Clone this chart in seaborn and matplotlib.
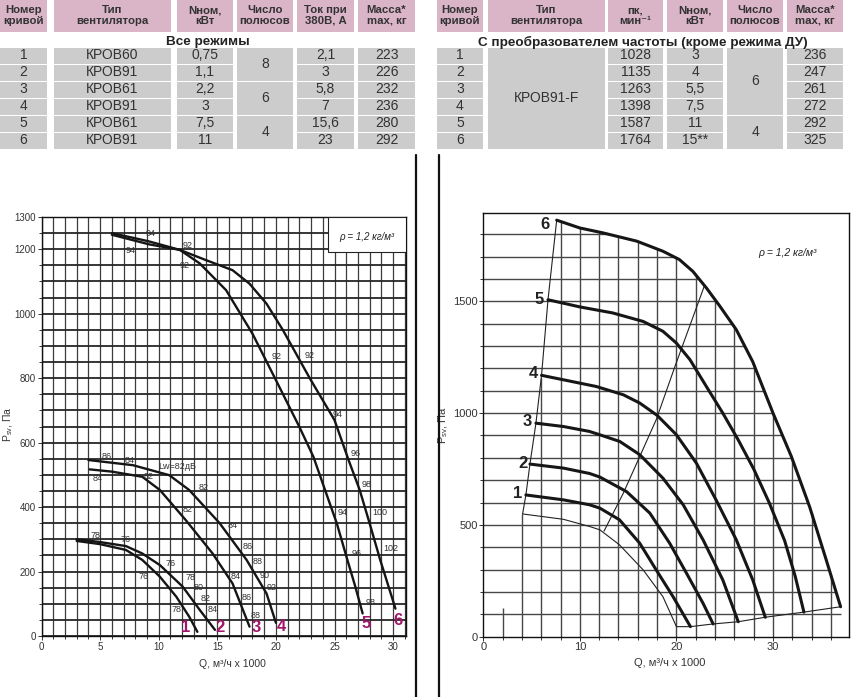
import numpy as np
import matplotlib
matplotlib.use('Agg')
import matplotlib.pyplot as plt
from matplotlib.patches import Rectangle
from matplotlib.lines import Line2D
from matplotlib.ticker import MultipleLocator
from matplotlib import font_manager
import seaborn as sns

# ---------------- DATA ----------------
# Table 1 (all modes)
t1_headers = ["Номер\nкривой", "Тип\nвентилятора", "Nном,\nкВт", "Число\nполюсов", "Ток при\n380В, А", "Масса*\nmax, кг"]
t1_title = "Все режимы"
t1_curve = ["1", "2", "3", "4", "5", "6"]
t1_type = ["КРОВ60", "КРОВ91", "КРОВ61", "КРОВ91", "КРОВ61", "КРОВ91"]
t1_power = ["0,75", "1,1", "2,2", "3", "7,5", "11"]
t1_poles = ["8", "8", "6", "6", "4", "4"]
t1_current = ["2,1", "3", "5,8", "7", "15,6", "23"]
t1_mass = ["223", "226", "232", "236", "280", "292"]

# Table 2 (frequency converter)
t2_headers = ["Номер\nкривой", "Тип\nвентилятора", "пк,\nмин⁻¹", "Nном,\nкВт", "Число\nполюсов", "Масса*\nmax, кг"]
t2_title = "С преобразователем частоты (кроме режима ДУ)"
t2_curve = ["1", "2", "3", "4", "5", "6"]
t2_type = ["КРОВ91-F", "КРОВ91-F", "КРОВ91-F", "КРОВ91-F", "КРОВ91-F", "КРОВ91-F"]
t2_speed = ["1028", "1135", "1263", "1398", "1587", "1764"]
t2_power = ["3", "4", "5,5", "7,5", "11", "15**"]
t2_poles = ["6", "6", "6", "6", "4", "4"]
t2_mass = ["236", "247", "261", "272", "292", "325"]

# Left chart curves: Q (m3/h x1000), P (Pa)
L1_q = [3.0, 5.0, 7.2, 8.6, 10.1, 11.5, 12.6, 13.3]
L1_p = [295, 285, 267, 236, 184, 122, 60, 13]
L2_q = [3.0, 4.9, 7.2, 8.6, 10.1, 12.05, 13.5, 14.8]
L2_p = [300, 292, 279, 256, 220, 153, 81, 19]
L3_q = [4.1, 6.0, 8.6, 10.1, 12.3, 14.6, 16.3, 17.75]
L3_p = [517, 510, 494, 453, 360, 256, 163, 29]
L4_q = [4.0, 7.8, 10.9, 12.6, 15.2, 17.5, 19.2, 20.0]
L4_p = [546, 530, 499, 453, 350, 236, 132, 41]
L5_q = [6.0, 9.1, 11.8, 13.5, 15.75, 18.0, 20.0, 22.0, 23.2, 24.0, 25.2, 26.1, 26.8, 27.4]
L5_p = [1250, 1225, 1198, 1156, 1073, 938, 794, 649, 556, 473, 349, 236, 150, 70]
L6_q = [6.0, 9.2, 11.8, 14.05, 16.3, 17.75, 19.2, 20.6, 22.9, 25.0, 26.2, 27.15, 28.0, 28.9, 30.2]
L6_p = [1245, 1215, 1198, 1166, 1135, 1093, 1031, 949, 799, 670, 546, 453, 349, 236, 85]

# Left chart noise-level annotations (Q, P, text)
L_notes = [
    (4.6, 311, "78"), (7.2, 300, "76"), (11.05, 225, "76"), (8.7, 184, "76"),
    (12.7, 182, "78"), (13.4, 150, "80"), (14.0, 117, "82"), (14.6, 81, "84"), (11.5, 81, "78"),
    (5.55, 556, "86"), (7.5, 544, "84"), (11.55, 527, "Lw=82дБ"), (4.8, 489, "84"),
    (9.1, 494, "82"), (13.8, 460, "82"), (12.5, 391, "82"), (16.3, 344, "84"),
    (17.6, 279, "86"), (18.4, 230, "88"), (19.0, 189, "90"), (19.6, 151, "92"),
    (16.6, 184, "84"), (17.5, 119, "86"), (18.3, 65, "88"),
    (9.3, 1249, "94"), (7.6, 1197, "94"), (12.5, 1212, "92"), (12.2, 1150, "92"),
    (20.06, 866, "92"), (22.9, 871, "92"), (25.25, 687, "94"), (26.8, 567, "96"),
    (27.7, 470, "98"), (28.9, 382, "100"), (25.7, 382, "94"), (29.8, 272, "102"),
    (26.9, 256, "96"), (28.1, 104, "98"),
]
L_numbers = [(12.28, 27, "1"), (15.25, 27, "2"), (18.3, 25, "3"), (20.46, 28, "4"), (27.67, 39, "5"), (30.4, 47, "6")]

# Right chart curves
R1_q = [4.41, 8.3, 11.0, 12.07, 14.1, 16.2, 17.9, 19.65, 21.45]
R1_p = [634, 612, 590, 575, 523, 418, 299, 179, 45]
R2_q = [4.83, 8.3, 11.0, 12.07, 14.83, 17.24, 19.3, 21.04, 22.76, 23.8]
R2_p = [772, 754, 730, 714, 649, 553, 418, 284, 149, 57]
R3_q = [5.45, 8.3, 11.0, 12.07, 14.14, 16.2, 18.6, 20.7, 22.76, 24.8, 26.4]
R3_p = [955, 940, 918, 903, 873, 814, 709, 590, 433, 254, 67]
R4_q = [6.03, 8.3, 11.7, 14.5, 16.2, 18.0, 20.0, 22.07, 24.1, 26.2, 27.9, 28.6, 29.2]
R4_p = [1169, 1149, 1119, 1082, 1045, 990, 903, 776, 612, 433, 254, 164, 87]
R5_q = [6.7, 10.0, 13.4, 16.55, 18.6, 20.0, 21.4, 23.1, 24.8, 26.4, 28.0, 29.6, 31.2, 32.3, 33.2]
R5_p = [1507, 1475, 1448, 1410, 1366, 1313, 1239, 1119, 1000, 880, 750, 600, 430, 270, 110]
R6_q = [7.6, 10.0, 12.4, 15.9, 18.6, 20.3, 21.7, 23.1, 24.5, 26.2, 27.9, 30.0, 31.9, 33.8, 35.5, 37.0]
R6_p = [1863, 1828, 1806, 1769, 1724, 1687, 1634, 1560, 1478, 1373, 1230, 1000, 806, 580, 345, 134]
# thin boundary lines
R_start_q = [4.07, 4.41, 4.83, 5.45, 6.03, 6.7, 7.6]
R_start_p = [549, 634, 772, 955, 1169, 1507, 1863]
R_min_q = [4.07, 8.3, 11.0, 12.07, 14.1, 16.55, 18.6, 20.0]
R_min_p = [549, 525, 493, 478, 411, 299, 179, 45]
R_diag_q = [12.5, 14.5, 16.2, 17.9, 19.85, 22.9]
R_diag_p = [472, 642, 806, 970, 1209, 1570]
R_stub_q = [2]
R_stub_p = [130]
R_numbers = [(3.52, 639, "1"), (4.1, 776, "2"), (4.6, 963, "3"), (5.2, 1179, "4"), (5.8, 1507, "5"), (6.4, 1843, "6")]

# ---------------- STYLE ----------------
sns.set_theme(style='white')
names = {f.name for f in font_manager.fontManager.ttflist}
NARROW = 'Liberation Sans Narrow' if 'Liberation Sans Narrow' in names else 'Liberation Sans'
plt.rcParams['font.family'] = [NARROW, 'DejaVu Sans']

W, H = 852, 697
fig = plt.figure(figsize=(W / 100, H / 100), dpi=100)
fig.patch.set_facecolor('white')

PINK = '#dab4c7'
GRAY = '#cccccc'
TXT = '#333333'


def cell(x0, x1, y0, y1, color, text, bold=False, size=10):
    fig.add_artist(Rectangle((x0 / W, 1 - y1 / H), (x1 - x0) / W, (y1 - y0) / H,
                             transform=fig.transFigure, facecolor=color, edgecolor='none', zorder=0))
    fig.text((x0 + x1) / 2 / W, 1 - (y0 + y1) / 2 / H + 0.001, text, ha='center', va='center',
             fontsize=size, fontweight='bold' if bold else 'normal', color=TXT, linespacing=1.05)


def spans(values, merge):
    if not merge:
        return [(i, i, v) for i, v in enumerate(values)]
    out, start = [], 0
    for i in range(1, len(values) + 1):
        if i == len(values) or values[i] != values[start]:
            out.append((start, i - 1, values[start]))
            start = i
    return out


row_top = [48, 65, 82, 99, 116, 133]
row_h = 16


def table(cols, headers, columns, merges, title, title_x):
    for (x0, x1), h in zip(cols, headers):
        cell(x0, x1, 0, 32, PINK, h, bold=True, size=8.2)
    fig.text(title_x / W, 1 - 42 / H, title, ha='center', va='center', fontsize=9.7,
             fontweight='bold', color='#222')
    for (x0, x1), vals, mg in zip(cols, columns, merges):
        for a, b, v in spans(vals, mg):
            cell(x0, x1, row_top[a], row_top[b] + row_h, GRAY, v, size=10)


table([(0, 47), (54, 171), (177, 233), (237, 293), (297, 354), (358, 415)], t1_headers,
      [t1_curve, t1_type, t1_power, t1_poles, t1_current, t1_mass],
      [False, False, False, True, False, False], t1_title, 208)
table([(437, 483), (488, 605), (608, 663), (667, 723), (727, 783), (787, 843)], t2_headers,
      [t2_curve, t2_type, t2_speed, t2_power, t2_poles, t2_mass],
      [False, True, False, False, True, False], t2_title, 643)

# divider lines
for xp in (416, 439):
    fig.add_artist(Line2D([xp / W, xp / W], [0, 1 - 155 / H], color='#111', lw=1.6, transform=fig.transFigure))

# ---------------- LEFT CHART ----------------
axL = fig.add_axes([41.5 / W, 1 - 636 / H, (406 - 41.5) / W, (636 - 217) / H])
for q, p in [(L1_q, L1_p), (L2_q, L2_p), (L3_q, L3_p), (L4_q, L4_p), (L5_q, L5_p), (L6_q, L6_p)]:
    sns.lineplot(x=q, y=p, ax=axL, color='#151515', linewidth=1.7, sort=False, estimator=None, zorder=4)
axL.set_xlim(0, 31.1)
axL.set_ylim(0, 1300)
axL.set_xticks(list(range(0, 31, 5)))
axL.set_yticks([0, 200, 400, 600, 800, 1000, 1200, 1300])
axL.xaxis.set_minor_locator(MultipleLocator(1))
axL.yaxis.set_minor_locator(MultipleLocator(50))
axL.set_axisbelow(True)
axL.grid(which='both', axis='x', color='#3c3c3c', lw=0.9)
axL.grid(which='both', axis='y', color='#262626', lw=1.3)
axL.tick_params(which='both', bottom=True, left=True, direction='out', colors=TXT, labelsize=7, pad=1, width=0.7)
axL.tick_params(which='major', length=3)
axL.tick_params(which='minor', length=2)
for s in axL.spines.values():
    s.set_color('#111')
    s.set_linewidth(1.0)
axL.set_xlabel('Q, м³/ч x 1000', fontsize=7.5, color=TXT)
axL.xaxis.set_label_coords(0.525, -0.056)
axL.set_ylabel(r'P$_{\mathregular{sv}}$, Па', fontsize=7.5, color=TXT)
axL.yaxis.set_label_coords(-0.072, 0.505)
axL.add_patch(Rectangle((0.786, 0.916), 0.214, 0.084, transform=axL.transAxes,
                        facecolor='white', edgecolor='#222', lw=0.8, zorder=3))
axL.text(0.892, 0.952, 'ρ = 1,2 кг/м³', transform=axL.transAxes, fontsize=7,
         style='italic', ha='center', va='center', color='#222', zorder=5)
for x, y, s in L_notes:
    axL.text(x, y, s, fontsize=6.5, ha='center', va='center', color='#333', zorder=5)
for x, y, s in L_numbers:
    axL.text(x, y, s, fontsize=12, fontweight='bold', ha='center', va='center', color='#a1166a', zorder=5)

# ---------------- RIGHT CHART ----------------
axR = fig.add_axes([483.3 / W, 1 - 636.7 / H, (849.3 - 483.3) / W, (636.7 - 213) / H])
axR.set_xlim(0, 37.9)
axR.set_ylim(0, 1895)
# clipped grid
q6 = np.array(R6_q)
p6 = np.array(R6_p)
for lev in range(100, 1900, 100):
    xe = np.interp(lev, p6[::-1], q6[::-1])
    axR.hlines(lev, 0, xe, color='#474747', lw=1.0, zorder=0.5)
env_q = np.array(R_start_q + R6_q[1:])
env_p = np.array(R_start_p + R6_p[1:])
for xv in range(2, 38, 2):
    top = np.interp(xv, env_q, env_p)
    if xv in R_stub_q:
        top = R_stub_p[R_stub_q.index(xv)]
    axR.vlines(xv, 0, top, color='#474747', lw=1.0, zorder=0.5)

for q, p in [(R1_q, R1_p), (R2_q, R2_p), (R3_q, R3_p), (R4_q, R4_p), (R5_q, R5_p), (R6_q, R6_p)]:
    sns.lineplot(x=q, y=p, ax=axR, color='#161616', linewidth=2.2, sort=False, estimator=None, zorder=4)
# thin lines
sns.lineplot(x=R_start_q, y=R_start_p, ax=axR, color='#222', linewidth=0.8, sort=False, estimator=None, zorder=3)
sns.lineplot(x=R_min_q, y=R_min_p, ax=axR, color='#222', linewidth=0.8, sort=False, estimator=None, zorder=3)
sns.lineplot(x=R_diag_q, y=R_diag_p, ax=axR, color='#222', linewidth=0.8, sort=False, estimator=None, zorder=3)
bot_q = [R_min_q[-1]] + [c[-1] for c in (R1_q, R2_q, R3_q, R4_q, R5_q, R6_q)]
bot_p = [R_min_p[-1]] + [c[-1] for c in (R1_p, R2_p, R3_p, R4_p, R5_p, R6_p)]
sns.lineplot(x=bot_q, y=bot_p, ax=axR, color='#222', linewidth=0.8, sort=False, estimator=None, zorder=3)

axR.set_xticks([0, 10, 20, 30])
axR.set_yticks([0, 500, 1000, 1500])
axR.xaxis.set_minor_locator(MultipleLocator(2))
axR.yaxis.set_minor_locator(MultipleLocator(100))
axR.tick_params(which='both', bottom=True, left=True, direction='out', colors=TXT, labelsize=8, pad=1, width=0.7)
axR.tick_params(which='major', length=3)
axR.tick_params(which='minor', length=2)
for s in axR.spines.values():
    s.set_color('#111')
    s.set_linewidth(1.0)
axR.set_xlabel('Q, м³/ч x 1000', fontsize=8, color=TXT)
axR.xaxis.set_label_coords(0.51, -0.05)
axR.set_ylabel(r'P$_{\mathregular{sv}}$, Па', fontsize=8, color=TXT)
axR.yaxis.set_label_coords(-0.092, 0.5)
axR.text(31.45, 1717, 'ρ = 1,2 кг/м³', fontsize=7.5, style='italic', ha='center', va='center', color='#222')
for x, y, s in R_numbers:
    axR.text(x, y, s, fontsize=12, fontweight='bold', ha='center', va='center', color='#222', zorder=5)

fig.savefig('out.png', dpi=100, facecolor='white')
